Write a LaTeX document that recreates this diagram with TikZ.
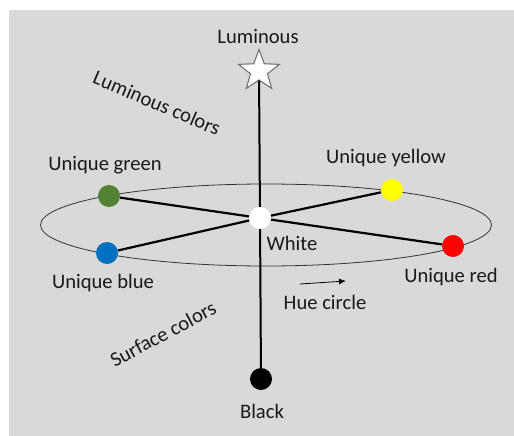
\documentclass[tikz,border=0pt]{standalone}
\usepackage{fontspec}
\setmainfont{Carlito}
\usetikzlibrary{shapes.geometric,arrows.meta}
\definecolor{bgc}{HTML}{D9D9D9}
\definecolor{ugreen}{HTML}{548235}
\definecolor{ublue}{HTML}{0070C0}
\definecolor{uyellow}{HTML}{FFFF00}
\definecolor{ured}{HTML}{FF0000}
\begin{document}
\begin{tikzpicture}[x=1pt,y=-1pt,
  lbl/.style={font=\fontsize{20.6}{24}\selectfont, inner sep=0pt, text=black!90},
  dot/.style={circle, minimum size=22pt, inner sep=0pt},
  spoke/.style={line width=2.2pt, black},
]
\useasboundingbox (0,0) rectangle (514,436);
\fill[bgc] (9,10) rectangle (514,436);
\draw[line width=0.8pt, black!80] (266,225) ellipse [x radius=225.5, y radius=41];

\node[dot, fill=ugreen] (green) at (109,196) {};
\node[dot, fill=ublue] (blue) at (107,253) {};
\node[dot, fill=uyellow] (yellow) at (392,190) {};
\node[dot, fill=ured] (red) at (453,246) {};
\node[dot, fill=white] (white) at (260,218) {};
\node[dot, fill=black] (black) at (261,379) {};
\node[star, star points=5, star point ratio=2.4, minimum size=43pt, inner sep=0pt,
      fill=white, draw=black!55, line width=1.1pt] (star) at (259,71) {};

\draw[spoke] (green) -- (white);
\draw[spoke] (white) -- (red);
\draw[spoke] (blue) -- (white);
\draw[spoke] (white) -- (yellow);
\draw[line width=2pt] (star) -- (white);
\draw[line width=2pt] (white) -- (black);

\coordinate (a0) at (300,284);
\coordinate (a1) at (346,281);
\draw[line width=0.8pt, -{Latex[length=7pt,width=6pt]}] (a0) -- (a1);

\node[lbl] (tlum) at (258,36) {Luminous};
\node[lbl] (tgreen) at (105,165) {Unique green};
\node[lbl] (tyellow) at (386,158) {Unique yellow};
\node[lbl] (tblue) at (103,283) {Unique blue};
\node[lbl] (tred) at (451,277) {Unique red};
\node[lbl] (twhite) at (292,243) {White};
\node[lbl] (thue) at (325,302) {Hue circle};
\node[lbl] (tblack) at (262,411) {Black};
\node[lbl, rotate=-23] (tlumc) at (157,103) {Luminous colors};
\node[lbl, rotate=28] (tsurf) at (163,334) {Surface colors};
\end{tikzpicture}
\end{document}
